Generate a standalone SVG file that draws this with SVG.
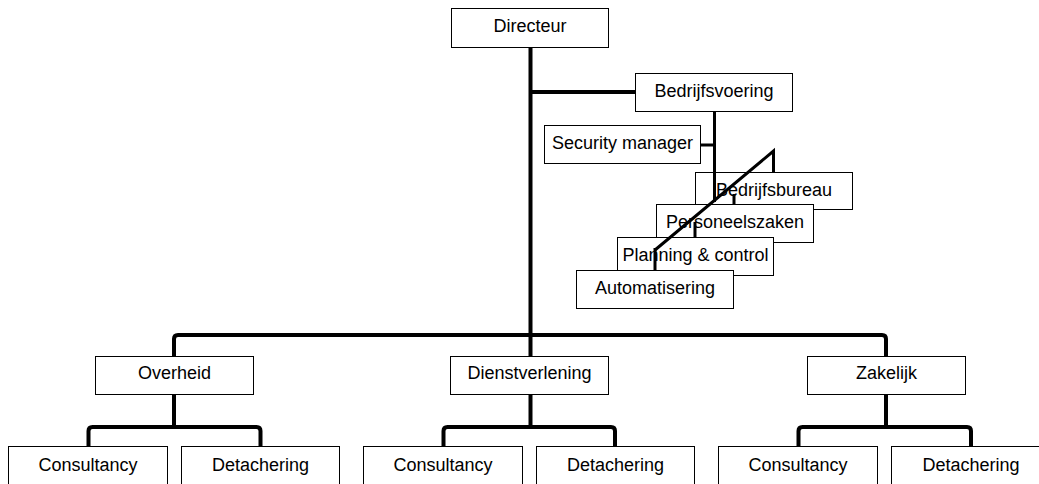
<svg xmlns="http://www.w3.org/2000/svg" width="1039" height="484" viewBox="0 0 1039 484">
<style>
.box rect{fill:#fff;stroke:#000;stroke-width:1}
.box text{font-family:"Liberation Sans",Arial,sans-serif;font-size:18px;fill:#000;text-anchor:middle}
.conn{fill:none;stroke:#000;stroke-width:4;stroke-linejoin:round}
.staff{fill:none;stroke:#000;stroke-width:3;stroke-linejoin:miter}
</style>
<rect width="1039" height="484" fill="#fff"/>
<g id="connectors-main">
<path class="conn" d="M530.5 47 V356"/>
<path class="conn" d="M530.5 92 H635"/>
<path class="conn" d="M174 356 V339 Q174 335 178 335 H882 Q886 335 886 339 V356"/>
<path class="conn" d="M174 394 V427"/>
<path class="conn" d="M88.5 446 V431 Q88.5 427 92.5 427 H256.5 Q260.5 427 260.5 431 V446"/>
<path class="conn" d="M530.5 394 V427"/>
<path class="conn" d="M443.5 446 V431 Q443.5 427 447.5 427 H611 Q615 427 615 431 V446"/>
<path class="conn" d="M886 394 V427"/>
<path class="conn" d="M798.5 446 V431 Q798.5 427 802.5 427 H967 Q971 427 971 431 V446"/>
</g>
<g id="n-directeur" class="box"><rect x="451.5" y="8.5" width="157" height="39"/><text x="530" y="32">Directeur</text></g>
<g id="n-bedrijfsvoering" class="box"><rect x="635.5" y="73.5" width="157" height="38"/><text x="714" y="97">Bedrijfsvoering</text></g>
<g id="n-security" class="box"><rect x="544.5" y="125.5" width="156" height="38"/><text x="622.5" y="149">Security manager</text></g>
<g id="n-bedrijfsbureau" class="box"><rect x="695.5" y="172.5" width="157" height="37"/><text x="774" y="195.5">Bedrijfsbureau</text></g>
<g id="n-personeelszaken" class="box"><rect x="656.5" y="204.5" width="157" height="38"/><text x="735" y="228">Personeelszaken</text></g>
<g id="n-planning" class="box"><rect x="617.5" y="237.5" width="156" height="38"/><text x="695.5" y="261">Planning &amp; control</text></g>
<g id="n-automatisering" class="box"><rect x="576.5" y="270.5" width="157" height="38"/><text x="655" y="294">Automatisering</text></g>
<g id="connectors-staff">
<path class="staff" d="M714.5 112 V202"/>
<path class="staff" d="M700 145 H714.5"/>
<path class="staff" d="M773.5 172 V151 L655 250"/>
<path class="staff" d="M734 194 V204"/>
<path class="staff" d="M695 222 V237"/>
<path class="staff" d="M655 248 V270"/>
</g>
<g id="n-overheid" class="box"><rect x="95.5" y="356.5" width="158" height="38"/><text x="174.5" y="379">Overheid</text></g>
<g id="n-dienstverlening" class="box"><rect x="450.5" y="356.5" width="158" height="38"/><text x="529.5" y="379">Dienstverlening</text></g>
<g id="n-zakelijk" class="box"><rect x="807.5" y="356.5" width="158" height="38"/><text x="886.5" y="379">Zakelijk</text></g>
<g id="n-o-consultancy" class="box"><rect x="8.5" y="446.5" width="159" height="45"/><text x="88" y="471">Consultancy</text></g>
<g id="n-o-detachering" class="box"><rect x="181.5" y="446.5" width="158" height="45"/><text x="260.5" y="471">Detachering</text></g>
<g id="n-d-consultancy" class="box"><rect x="363.5" y="446.5" width="159" height="45"/><text x="443" y="471">Consultancy</text></g>
<g id="n-d-detachering" class="box"><rect x="536.5" y="446.5" width="158" height="45"/><text x="615.5" y="471">Detachering</text></g>
<g id="n-z-consultancy" class="box"><rect x="718.5" y="446.5" width="159" height="45"/><text x="798" y="471">Consultancy</text></g>
<g id="n-z-detachering" class="box"><rect x="891.5" y="446.5" width="160" height="45"/><text x="971" y="471">Detachering</text></g>
</svg>
